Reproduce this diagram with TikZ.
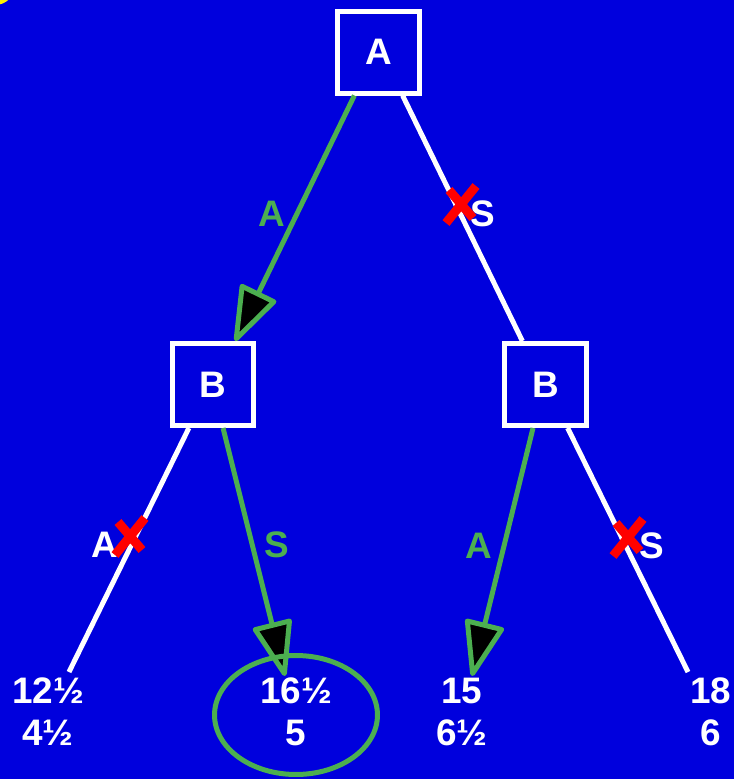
\documentclass[tikz,border=0pt]{standalone}
\usepackage{fontspec}
\setmainfont{Liberation Sans}
\usetikzlibrary{arrows.meta}
\definecolor{bleufond}{RGB}{0,0,221}
\definecolor{vertchoix}{RGB}{76,175,80}

\begin{document}
\begin{tikzpicture}[x=0.02cm, y=-0.02cm]
  \tikzstyle{joueur}=[draw=white, line width=0.1cm, minimum size=1.64cm,
    text=white, font=\bfseries\fontsize{21}{24}\selectfont]
  \tikzstyle{gain}=[text=white, align=center, inner sep=0pt,
    font=\bfseries\fontsize{21}{24}\selectfont]
  \tikzstyle{etiq}=[text=white, inner sep=0pt,
    font=\bfseries\fontsize{21}{24}\selectfont]
  \tikzstyle{branche}=[draw=white, line width=0.1cm]
  \tikzstyle{choix}=[draw=vertchoix, line width=0.1cm,
    -{Triangle[length=1.2cm, width=0.82cm, fill=black, line join=round]}]
  \tikzstyle{barre}=[draw=red, line width=0.18cm]
  \useasboundingbox (0,0) rectangle (734,779);
  \clip (0,0) rectangle (734,779);
  \fill[bleufond] (0,0) rectangle (734,779);
  \fill[yellow] (-5,-15) circle (0.4cm);
  % joueurs
  \node[joueur] (A) at (378.5,52) {A};
  \node[joueur] (BG) at (213,384.5) {B};
  \node[joueur] (BD) at (545.5,384.5) {B};
  % gains
  \node[gain] (g1) at (48,712) {12½\\4½};
  \node[gain] (g2) at (296,712) {16½\\5};
  \node[gain] (g3) at (462,712) {15\\6½};
  \node[gain] (g4) at (711,712) {18\\6};
  \coordinate (f1) at (69,672);
  \coordinate (f2) at (285,676);
  \coordinate (f3) at (472,676);
  \coordinate (f4) at (688,672);
  % branches
  \draw[choix] (A.241) -- (BG.63);
  \draw[branche] (A.299) -- (BD.118);
  \draw[branche] (BG.241) -- (f1);
  \draw[choix] (BG.283) -- (f2);
  \draw[choix] (BD.254) -- (f3);
  \draw[branche] (BD.297) -- (f4);
  % etiquettes
  \node[etiq, text=vertchoix] (lA1) at (272,214) {A};
  \node[etiq] (lS1) at (483,214) {S};
  \node[etiq] (lA2) at (105,545) {A};
  \node[etiq, text=vertchoix] (lS2) at (277,545) {S};
  \node[etiq, text=vertchoix] (lA3) at (479,546) {A};
  \node[etiq] (lS3) at (652,546) {S};
  % croix
  \draw[barre, shift={(461,204)}] (-12,-14) -- (12,14) (15,-18) -- (-15,19);
  \draw[barre, shift={(130,536)}] (-12,-14) -- (12,14) (15,-18) -- (-15,19);
  \draw[barre, shift={(628,537)}] (-12,-14) -- (12,14) (15,-18) -- (-15,19);
  % equilibre
  \draw[vertchoix, line width=0.1cm] ([yshift=-0.06cm]g2.center)
    ellipse [x radius=1.63cm, y radius=1.19cm];
\end{tikzpicture}
\end{document}
